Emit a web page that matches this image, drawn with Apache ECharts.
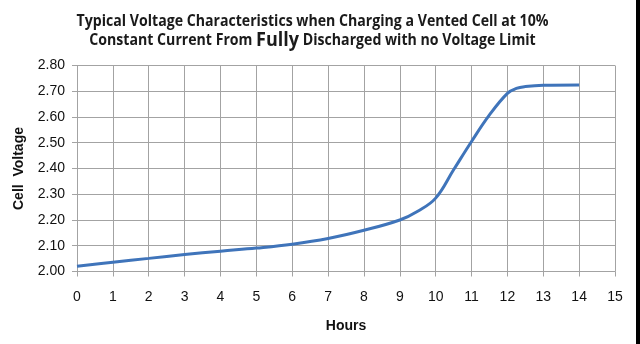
<!DOCTYPE html>
<html>
<head>
<meta charset="utf-8">
<script src="https://cdn.jsdelivr.net/npm/echarts@6/dist/echarts.min.js"></script>
<style>
  html, body { margin: 0; padding: 0; background: #fff; }
  #chart { width: 640px; height: 344px; }
</style>
</head>
<body>
<div id="chart"></div>
<script>
// Charging curve of a vented cell at 10% constant current
const hours = [0, 1, 2, 3, 4, 5, 6, 7, 8, 9, 9.5, 10, 10.5, 11, 11.5, 12, 12.25, 12.5, 13, 14];
const cellVoltage = [2.02, 2.036, 2.051, 2.066, 2.079, 2.091, 2.106, 2.128, 2.16, 2.2, 2.234, 2.285, 2.395, 2.505, 2.608, 2.692, 2.711, 2.718, 2.723, 2.724];
const titleLine1 = 'Typical Voltage Characteristics when Charging a Vented Cell at 10%';
const titleLine2a = 'Constant Current From ';
const titleLine2b = 'Fully';
const titleLine2c = ' Discharged with no Voltage Limit';

const gridColor = '#a3a3a3';
const axisFont = 'Liberation Sans, Arial, sans-serif';
const titleFont = 'bold 15.3px "Open Sans", sans-serif';
const titleFontBig = 'bold 19.5px "Open Sans", sans-serif';
const titleWidth = 472; // target width of the first title line, px

// Condense the title horizontally so the first line fits the target width
const measureCtx = document.createElement('canvas').getContext('2d');
measureCtx.font = titleFont;
const titleScaleX = Math.min(1, titleWidth / measureCtx.measureText(titleLine1).width);

const chart = echarts.init(document.getElementById('chart'), null, { renderer: 'canvas' });

chart.setOption({
  backgroundColor: '#ffffff',
  animation: false,
  grid: { left: 77, right: 25, top: 65.5, bottom: 72.5, containLabel: false },
  xAxis: {
    type: 'value',
    min: 0,
    max: 15,
    interval: 1,
    name: 'Hours',
    nameLocation: 'middle',
    nameGap: 48,
    nameTextStyle: { fontFamily: axisFont, fontWeight: 'bold', fontSize: 14, color: '#111' },
    axisLine: { show: true, lineStyle: { color: gridColor, width: 1 } },
    axisTick: { show: true, length: 5, lineStyle: { color: gridColor } },
    axisLabel: { margin: 19, fontFamily: axisFont, fontSize: 14, color: '#111' },
    splitLine: { show: true, lineStyle: { color: gridColor, width: 1 } }
  },
  yAxis: {
    type: 'value',
    min: 2.0,
    max: 2.8,
    interval: 0.1,
    name: 'Cell  Voltage',
    nameLocation: 'middle',
    nameGap: 51,
    nameRotate: 90,
    nameTextStyle: { fontFamily: axisFont, fontWeight: 'bold', fontSize: 14, color: '#111' },
    axisLine: { show: true, lineStyle: { color: gridColor, width: 1 } },
    axisTick: { show: true, length: 5, lineStyle: { color: gridColor } },
    axisLabel: {
      margin: 12,
      fontFamily: axisFont,
      fontSize: 14,
      color: '#111',
      formatter: v => v.toFixed(2)
    },
    splitLine: { show: true, lineStyle: { color: gridColor, width: 1 } }
  },
  series: [{
    type: 'line',
    data: hours.map((h, i) => [h, cellVoltage[i]]),
    smooth: 0.4,
    showSymbol: false,
    lineStyle: { color: '#3f74ba', width: 3 }
  }],
  graphic: [
    {
      type: 'text',
      silent: true,
      x: 312.5,
      y: 21.5,
      scaleX: titleScaleX,
      style: {
        text: titleLine1,
        font: titleFont,
        fill: '#1a1a1a',
        textAlign: 'center',
        textVerticalAlign: 'middle'
      }
    },
    {
      type: 'text',
      silent: true,
      x: 312.5,
      y: 40.5,
      scaleX: titleScaleX,
      style: {
        text: '{a|' + titleLine2a + '}{b|' + titleLine2b + '}{a|' + titleLine2c + '}',
        textAlign: 'center',
        textVerticalAlign: 'middle',
        fill: '#1a1a1a',
        rich: {
          a: { font: titleFont, fill: '#1a1a1a' },
          b: { font: titleFontBig, fill: '#1a1a1a' }
        }
      }
    },
    {
      type: 'rect',
      shape: { x: 636, y: 0, width: 4, height: 344 },
      style: { fill: '#000' },
      silent: true
    }
  ]
});
</script>
</body>
</html>
